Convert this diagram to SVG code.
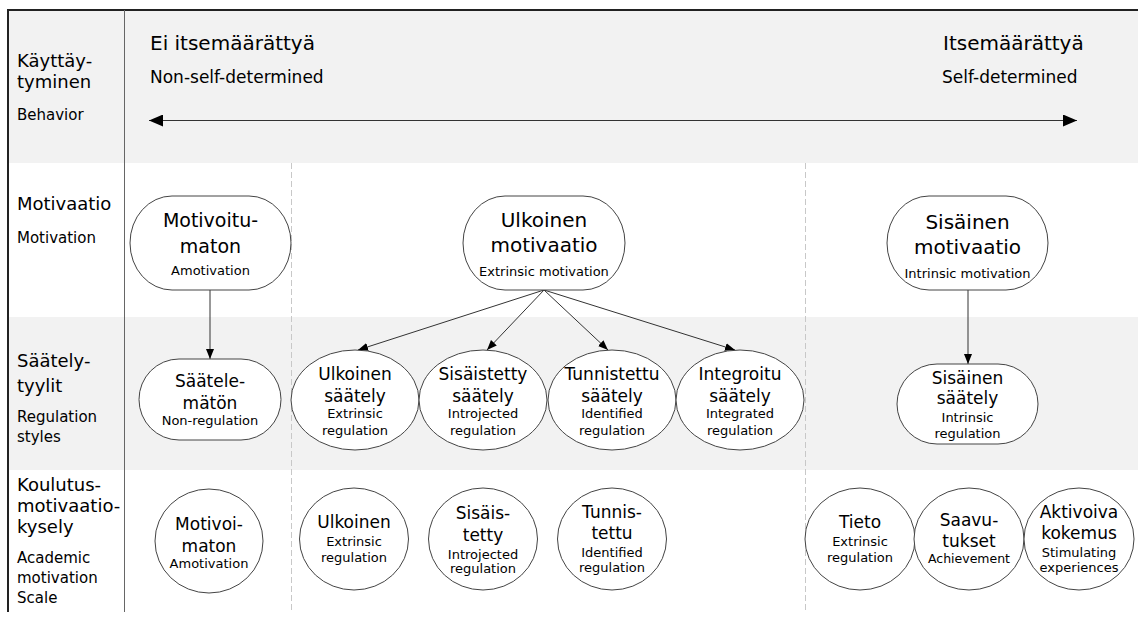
<svg xmlns="http://www.w3.org/2000/svg" width="1138" height="622" viewBox="0 0 1138 622">
<style>
text{font-family:"DejaVu Sans","Verdana",sans-serif;fill:#000}
.h{font-size:18px}
.e{font-size:15px}
.big{font-size:20px}
.sub{font-size:17px}
.m{font-size:20px;text-anchor:middle}
.r{font-size:17px;text-anchor:middle}
.s{font-size:13px;text-anchor:middle}
.node{fill:#fff;stroke:#444;stroke-width:1}
.band{fill:#f2f2f2}
.dash{stroke:#c8c8c8;stroke-width:1;stroke-dasharray:6 3}
.conn{stroke:#333;stroke-width:1;fill:none}
</style>
<defs>
<marker id="ah" viewBox="0 0 10 8" refX="10" refY="4" markerWidth="10" markerHeight="8" markerUnits="userSpaceOnUse" orient="auto">
<path d="M0,0 L10,4 L0,8 z" fill="#000"/>
</marker>
<marker id="big" viewBox="0 0 14 12" refX="14" refY="6" markerWidth="14" markerHeight="12" markerUnits="userSpaceOnUse" orient="auto-start-reverse">
<path d="M0,0 L14,6 L0,12 z" fill="#000"/>
</marker>
</defs>
<rect width="1138" height="622" fill="#fff"/>
<g id="bands">
<rect class="band" x="8" y="10" width="1130" height="153"/>
<rect class="band" x="8" y="317" width="1130" height="153"/>
</g>
<g id="frame">
<line x1="8" y1="612" x2="8" y2="10" stroke="#222" stroke-width="2"/>
<line x1="7" y1="10" x2="1138" y2="10" stroke="#222" stroke-width="2"/>
<line x1="124.5" y1="10" x2="124.5" y2="612" stroke="#666" stroke-width="1"/>
<line class="dash" x1="291.5" y1="163" x2="291.5" y2="612"/>
<line class="dash" x1="805.5" y1="163" x2="805.5" y2="612"/>
</g>
<g id="row-labels">
<text class="h" x="17" y="67">Käyttäy-</text>
<text class="h" x="17" y="88">tyminen</text>
<text class="e" x="17" y="120">Behavior</text>
<text class="h" x="17" y="210">Motivaatio</text>
<text class="e" x="17" y="243">Motivation</text>
<text class="h" x="17" y="367">Säätely-</text>
<text class="h" x="17" y="392">tyylit</text>
<text class="e" x="17" y="422">Regulation</text>
<text class="e" x="17" y="442">styles</text>
<text class="h" x="17" y="491">Koulutus-</text>
<text class="h" x="17" y="512">motivaatio-</text>
<text class="h" x="17" y="533">kysely</text>
<text class="e" x="17" y="563">Academic</text>
<text class="e" x="17" y="583">motivation</text>
<text class="e" x="17" y="603">Scale</text>
</g>
<g id="scale">
<text class="big" x="150" y="50">Ei itsemäärättyä</text>
<text class="sub" x="150" y="83">Non-self-determined</text>
<text class="big" x="943" y="50">Itsemäärättyä</text>
<text class="sub" x="942" y="83">Self-determined</text>
<line class="conn" x1="149" y1="120.5" x2="1077" y2="120.5" marker-start="url(#big)" marker-end="url(#big)"/>
</g>
<g id="connectors">
<line class="conn" x1="210" y1="290" x2="210" y2="359" marker-end="url(#ah)"/>
<line class="conn" x1="544" y1="290" x2="358" y2="350" marker-end="url(#ah)"/>
<line class="conn" x1="544" y1="290" x2="487" y2="350" marker-end="url(#ah)"/>
<line class="conn" x1="544" y1="290" x2="608" y2="350" marker-end="url(#ah)"/>
<line class="conn" x1="544" y1="290" x2="735" y2="350" marker-end="url(#ah)"/>
<line class="conn" x1="968" y1="290" x2="968" y2="364" marker-end="url(#ah)"/>
</g>
<g id="n-amotivation">
<rect class="node" x="130" y="196" width="161" height="94" rx="42" ry="47"/>
<text class="m" x="210.5" y="227" style="font-size:19px">Motivoitu-</text>
<text class="m" x="210.5" y="253" style="font-size:19px">maton</text>
<text class="s" x="210.5" y="275">Amotivation</text>
</g>
<g id="n-extrinsic-motivation">
<rect class="node" x="463" y="196" width="162" height="94" rx="42" ry="47"/>
<text class="m" x="544" y="227">Ulkoinen</text>
<text class="m" x="544" y="252">motivaatio</text>
<text class="s" x="544" y="276">Extrinsic motivation</text>
</g>
<g id="n-intrinsic-motivation">
<rect class="node" x="887" y="196" width="161" height="94" rx="42" ry="47"/>
<text class="m" x="967.5" y="229">Sisäinen</text>
<text class="m" x="967.5" y="254">motivaatio</text>
<text class="s" x="967.5" y="278">Intrinsic motivation</text>
</g>
<g id="n-non-regulation">
<rect class="node" x="139" y="359" width="142" height="81" rx="40" ry="40.5"/>
<text class="r" x="210" y="387">Säätele-</text>
<text class="r" x="210" y="409">mätön</text>
<text class="s" x="210" y="425">Non-regulation</text>
</g>
<g id="n-extrinsic-regulation">
<ellipse class="node" cx="355" cy="400" rx="64" ry="50"/>
<text class="r" x="355" y="380">Ulkoinen</text>
<text class="r" x="355" y="402">säätely</text>
<text class="s" x="355" y="418">Extrinsic</text>
<text class="s" x="355" y="435">regulation</text>
</g>
<g id="n-introjected-regulation">
<ellipse class="node" cx="483" cy="400" rx="64" ry="50"/>
<text class="r" x="483" y="380">Sisäistetty</text>
<text class="r" x="483" y="402">säätely</text>
<text class="s" x="483" y="418">Introjected</text>
<text class="s" x="483" y="435">regulation</text>
</g>
<g id="n-identified-regulation">
<ellipse class="node" cx="612" cy="400" rx="64" ry="50"/>
<text class="r" x="612" y="380">Tunnistettu</text>
<text class="r" x="612" y="402">säätely</text>
<text class="s" x="612" y="418">Identified</text>
<text class="s" x="612" y="435">regulation</text>
</g>
<g id="n-integrated-regulation">
<ellipse class="node" cx="740" cy="400" rx="64" ry="50"/>
<text class="r" x="740" y="380">Integroitu</text>
<text class="r" x="740" y="402">säätely</text>
<text class="s" x="740" y="418">Integrated</text>
<text class="s" x="740" y="435">regulation</text>
</g>
<g id="n-intrinsic-regulation">
<rect class="node" x="897" y="364" width="141" height="80" rx="40" ry="40"/>
<text class="r" x="967.5" y="384">Sisäinen</text>
<text class="r" x="967.5" y="404">säätely</text>
<text class="s" x="967.5" y="422">Intrinsic</text>
<text class="s" x="967.5" y="438">regulation</text>
</g>
<g id="n-ams-amotivation">
<ellipse class="node" cx="209" cy="541" rx="54" ry="52"/>
<text class="r" x="209" y="530">Motivoi-</text>
<text class="r" x="209" y="552">maton</text>
<text class="s" x="209" y="568">Amotivation</text>
</g>
<g id="n-ams-extrinsic">
<ellipse class="node" cx="354" cy="539" rx="54.5" ry="51"/>
<text class="r" x="354" y="528">Ulkoinen</text>
<text class="s" x="354" y="546">Extrinsic</text>
<text class="s" x="354" y="562">regulation</text>
</g>
<g id="n-ams-introjected">
<ellipse class="node" cx="483" cy="539" rx="54.5" ry="51"/>
<text class="r" x="483" y="519">Sisäis-</text>
<text class="r" x="483" y="541">tetty</text>
<text class="s" x="483" y="559">Introjected</text>
<text class="s" x="483" y="573">regulation</text>
</g>
<g id="n-ams-identified">
<ellipse class="node" cx="612" cy="539" rx="54.5" ry="51"/>
<text class="r" x="612" y="518">Tunnis-</text>
<text class="r" x="612" y="539">tettu</text>
<text class="s" x="612" y="557">Identified</text>
<text class="s" x="612" y="572">regulation</text>
</g>
<g id="n-ams-knowledge">
<ellipse class="node" cx="860" cy="539" rx="55" ry="51"/>
<text class="r" x="860" y="528">Tieto</text>
<text class="s" x="860" y="546">Extrinsic</text>
<text class="s" x="860" y="562">regulation</text>
</g>
<g id="n-ams-achievement">
<ellipse class="node" cx="969" cy="539" rx="55" ry="51"/>
<text class="r" x="969" y="526">Saavu-</text>
<text class="r" x="969" y="547">tukset</text>
<text class="s" x="969" y="563" style="font-size:12.5px">Achievement</text>
</g>
<g id="n-ams-stimulation">
<ellipse class="node" cx="1079" cy="539" rx="55" ry="51"/>
<text class="r" x="1079" y="518">Aktivoiva</text>
<text class="r" x="1079" y="539">kokemus</text>
<text class="s" x="1079" y="557">Stimulating</text>
<text class="s" x="1079" y="572">experiences</text>
</g>
</svg>
